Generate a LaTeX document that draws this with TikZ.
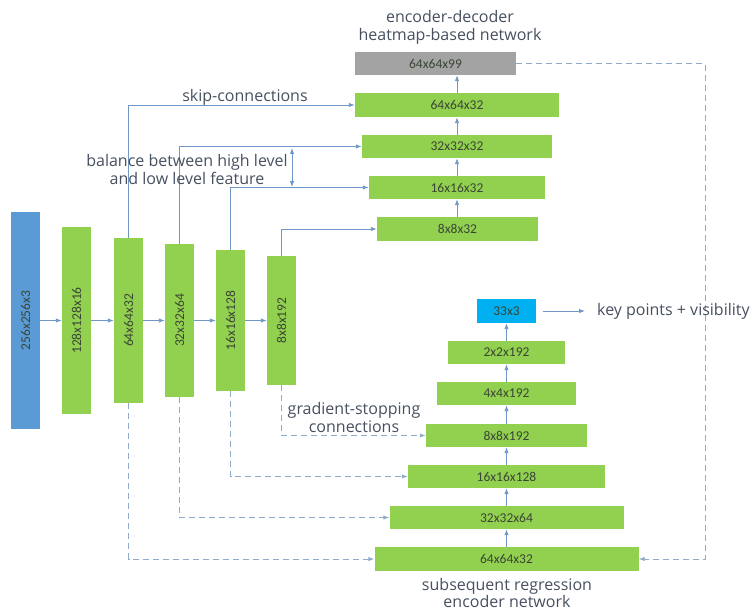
\documentclass[tikz,border=0pt]{standalone}
\usepackage{fontspec}
\setmainfont{Open Sans}
\newfontfamily\boxfont{Carlito}
\usetikzlibrary{arrows.meta}
\definecolor{boxgreen}{HTML}{92D050}
\definecolor{boxblue}{HTML}{5B9BD5}
\definecolor{boxcyan}{HTML}{00B0F0}
\definecolor{boxgray}{HTML}{A3A3A3}
\definecolor{linecol}{HTML}{6F98C6}
\definecolor{dashcol}{HTML}{8FAACB}
\definecolor{annot}{HTML}{46505F}
\definecolor{boxtext}{HTML}{3A4535}
\tikzset{
  blk/.style={fill=boxgreen, draw=none, inner sep=0pt, text=boxtext,
    font={\boxfont\fontsize{13.5}{14}\selectfont}},
  vblk/.style={blk, minimum width=29pt},
  hblk/.style={blk},
  conn/.style={draw=linecol, line width=0.9pt, -{Latex[length=6pt,width=4.5pt]}},
  dconn/.style={draw=dashcol, line width=0.9pt, dash pattern=on 6pt off 4pt,
    -{Latex[length=6pt,width=4.5pt]}},
  annottext/.style={text=annot, align=center, inner sep=0pt,
    font={\fontsize{16}{18}\selectfont}},
}
\begin{document}
\begin{tikzpicture}[x=1pt,y=-1pt]
\useasboundingbox (0,0) rectangle (753,612);
% encoder
\node[vblk, fill=boxblue, text=boxtext, minimum height=217pt] (in) at (25.5,320.5) {\rotatebox{90}{256x256x3}};
\node[vblk, minimum height=187pt] (e1) at (76.5,320.5) {\rotatebox{90}{128x128x16}};
\node[vblk, minimum height=165pt] (e2) at (128.5,320.5) {\rotatebox{90}{64x64x32}};
\node[vblk, minimum height=153pt] (e3) at (179.5,320.5) {\rotatebox{90}{32x32x64}};
\node[vblk, minimum height=141pt] (e4) at (230.5,320.5) {\rotatebox{90}{16x16x128}};
\node[vblk, minimum height=129pt] (e5) at (281.5,320.5) {\rotatebox{90}{8x8x192}};
\draw[conn] (in) -- (e1);
\draw[conn] (e1) -- (e2);
\draw[conn] (e2) -- (e3);
\draw[conn] (e3) -- (e4);
\draw[conn] (e4) -- (e5);
% decoder
\node[hblk, fill=boxgray, minimum width=161pt, minimum height=23pt] (hm) at (435.5,63.5) {64x64x99};
\node[hblk, minimum width=204pt, minimum height=24pt] (d1) at (457,105) {64x64x32};
\node[hblk, minimum width=190pt, minimum height=23pt] (d2) at (457,146.5) {32x32x32};
\node[hblk, minimum width=176pt, minimum height=23pt] (d3) at (457,187.5) {16x16x32};
\node[hblk, minimum width=161pt, minimum height=24pt] (d4) at (457.5,229) {8x8x32};
\draw[conn] (d4.north -| d3) -- (d3.south);
\draw[conn] (d3.north) -- (d2.south);
\draw[conn] (d2.north) -- (d1.south);
\draw[conn] (d1.north) -- (d1.north |- hm.south);
% skip connections
\draw[conn] (e2.north) |- (d1.west);
\draw[conn] (e3.north) |- (d2.west);
\draw[conn] (e4.north) |- (d3.west);
\draw[conn] (e5.north) |- (d4.west);
% regression network
\node[hblk, fill=boxcyan, minimum width=59pt, minimum height=24pt] (kp) at (506.5,311) {33x3};
\node[hblk, minimum width=117pt, minimum height=23pt] (r6) at (506.5,352.5) {2x2x192};
\node[hblk, minimum width=139pt, minimum height=23pt] (r5) at (506.5,393.5) {4x4x192};
\node[hblk, minimum width=161pt, minimum height=23pt] (r4) at (506.5,435.5) {8x8x192};
\node[hblk, minimum width=197pt, minimum height=23pt] (r3) at (506.5,476.5) {16x16x128};
\node[hblk, minimum width=234pt, minimum height=23pt] (r2) at (506.5,517.5) {32x32x64};
\node[hblk, minimum width=264pt, minimum height=24pt] (r1) at (506.5,559) {64x64x32};
\draw[conn] (r1) -- (r2);
\draw[conn] (r2) -- (r3);
\draw[conn] (r3) -- (r4);
\draw[conn] (r4) -- (r5);
\draw[conn] (r5) -- (r6);
\draw[conn] (r6) -- (kp);
% gradient-stopping connections
\draw[dconn] (e2.south) |- (r1.west);
\draw[dconn] (e3.south) |- (r2.west);
\draw[dconn] (e4.south) |- (r3.west);
\draw[dconn] (e5.south) |- (r4.west);
% heatmap to regression
\coordinate (hmcorner) at (705,63.5);
\draw[dconn] (hm.east) -- (hmcorner) |- (r1.east);
% output
\node[annottext, anchor=west] (kptext) at (597,311) {key points + visibility};
\draw[conn, shorten <=7pt, shorten >=12pt] (kp.east) -- (kptext.west);
% annotations
\node[annottext] (title) at (450,27) {encoder-decoder\\heatmap-based network};
\node[annottext] (skiptext) at (245,97) {skip-connections};
\node[annottext] (baltext) at (187,170) {balance between high level\\and low level feature};
\coordinate (balt) at (292,148);
\coordinate (balb) at (292,187);
\draw[draw=linecol, line width=0.9pt, {Latex[length=6pt,width=4.5pt]}-{Latex[length=6pt,width=4.5pt]}] (balt) -- (balb);
\node[annottext] (gradtext) at (354,418) {gradient-stopping\\connections};
\node[annottext, font={\fontsize{16}{17}\selectfont}] (regtext) at (507,593) {subsequent regression\\encoder network};
\end{tikzpicture}
\end{document}
